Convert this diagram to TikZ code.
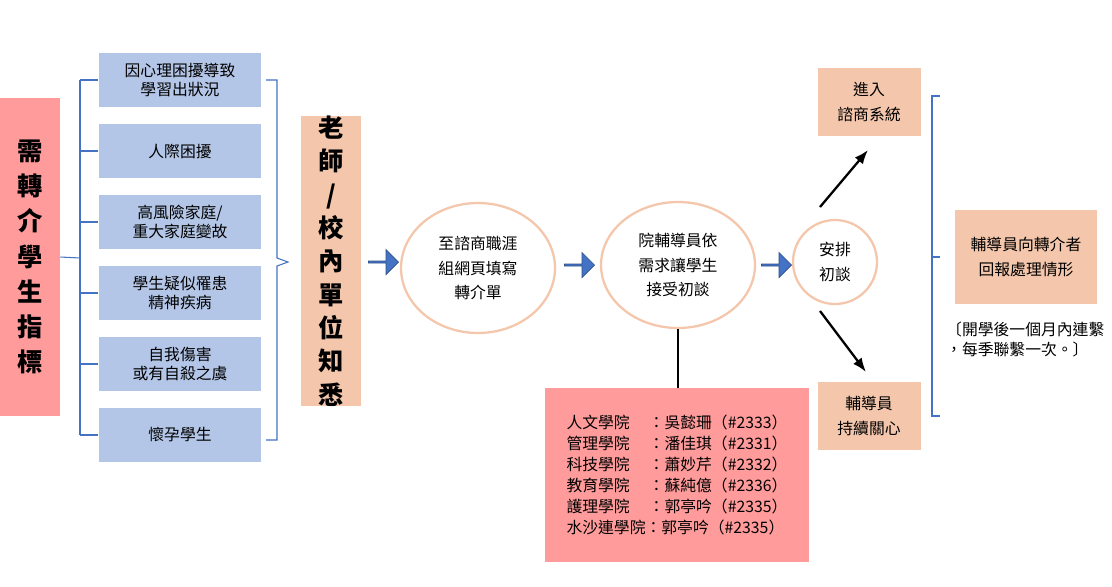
\documentclass[tikz,border=0pt]{standalone}
\usepackage{fontspec}
\newfontfamily\cjk{Noto Sans CJK TC}
\usetikzlibrary{shapes.arrows,arrows.meta}
\definecolor{redb}{HTML}{FF9B9B}
\definecolor{blueb}{HTML}{B4C6E7}
\definecolor{orb}{HTML}{F4C7AC}
\definecolor{lb}{HTML}{4472C4}
\begin{document}
\begin{tikzpicture}[x=0.02cm,y=-0.02cm,
  every node/.style={font=\cjk\small, align=center},
  bbox/.style={fill=blueb, minimum width=3.26cm, minimum height=1.08cm, inner sep=0pt},
  obox/.style={fill=orb, inner sep=0pt},
  circ/.style={ellipse, draw=orb, line width=1.3pt, fill=white, inner sep=0pt},
  barr/.style={single arrow, fill=lb, draw=lb!70!black, minimum width=0.5cm, single arrow head extend=0.08cm, minimum height=0.6cm, inner sep=0pt},
  bl/.style={draw=lb, line width=0.6pt}]
\useasboundingbox (0,0) rectangle (1112,586);
\usetikzlibrary{shapes.geometric}
\node[fill=redb, minimum width=1.2cm, minimum height=6.36cm, inner sep=0pt, font=\cjk\Large\bfseries, text width=1cm] (need) at (30,257) {需\\[2pt]轉\\[2pt]介\\[2pt]學\\[2pt]生\\[2pt]指\\[2pt]標};
\node[bbox] (b1) at (180,80) {因心理困擾導致\\學習出狀況};
\node[bbox] (b2) at (180,151) {人際困擾};
\node[bbox] (b3) at (180,222) {高風險家庭/\\重大家庭變故};
\node[bbox] (b4) at (180,293) {學生疑似罹患\\精神疾病};
\node[bbox] (b5) at (180,364) {自我傷害\\或有自殺之虞};
\node[bbox] (b6) at (180,435) {懷孕學生};
\coordinate (j) at (80,258);
\draw[bl] (need.east) -- (j);
\draw[bl] (80,80) -- (80,435);
\foreach \b in {b1,b2,b3,b4,b5,b6} \draw[bl] (80,0 |- \b.west) -- (\b.west);
\draw[bl] (266,80) -- (277,80) -- (277,258) -- (288,262) -- (277,266) -- (277,440) -- (266,440);
\node[obox, minimum width=1.2cm, minimum height=5.42cm, font=\cjk\Large\bfseries, text width=1cm] (t) at (331,261) {老\\[1pt]師\\[1pt]/\\[1pt]校\\[1pt]內\\[1pt]單\\[1pt]位\\[1pt]知\\[1pt]悉};
\node[circ, minimum width=3.08cm, minimum height=2.6cm] (c1) at (478,268) {至諮商職涯\\[3pt]組網頁填寫\\[3pt]轉介單};
\node[circ, minimum width=3.08cm, minimum height=2.52cm] (c2) at (678,265) {院輔導員依\\[3pt]需求讓學生\\[3pt]接受初談};
\node[circ, minimum width=1.68cm, minimum height=1.68cm] (c3) at (835,262) {安排\\[3pt]初談};
\node[barr] (a1) at (383,262) {};
\node[barr] (a2) at (579,265) {};
\node[barr] (a3) at (776,265) {};
\node[fill=redb, minimum width=5.3cm, minimum height=3.48cm, inner sep=0pt, font=\cjk\small, align=left] (col) at (677,475) {人文學院\hspace{1.2em}：吳懿珊（\#2333）\\[1pt]管理學院\hspace{1.2em}：潘佳琪（\#2331）\\[1pt]科技學院\hspace{1.2em}：蕭妙芹（\#2332）\\[1pt]教育學院\hspace{1.2em}：蘇純億（\#2336）\\[1pt]護理學院\hspace{1.2em}：郭亭吟（\#2335）\\[1pt]水沙連學院：郭亭吟（\#2335）};
\draw[line width=1pt] (c2.south) -- (col.north -| c2.south);
\node[obox, minimum width=2.06cm, minimum height=1.36cm] (in) at (869,102) {進入\\[3pt]諮商系統};
\node[obox, minimum width=2.06cm, minimum height=1.36cm] (keep) at (869,416) {輔導員\\[3pt]持續關心};
\coordinate (s1) at (820,207); \coordinate (e1) at (868,150);
\coordinate (s2) at (820,311); \coordinate (e2) at (866,372);
\draw[-{Latex[length=8pt]}, line width=1.3pt] (s1) -- (e1);
\draw[-{Latex[length=8pt]}, line width=1.3pt] (s2) -- (e2);
\draw[bl] (940,96) -- (932,96) -- (932,416) -- (940,416);
\draw[bl] (932,257) -- (940,257);
\node[obox, minimum width=2.84cm, minimum height=1.88cm] (rep) at (1026,257) {輔導員向轉介者\\[3pt]回報處理情形};
\node[font=\cjk\small, align=left, anchor=north west] (note) at (940,316) {〔開學後一個月內連繫\\，每季聯繫一次。〕};
\end{tikzpicture}
\end{document}
